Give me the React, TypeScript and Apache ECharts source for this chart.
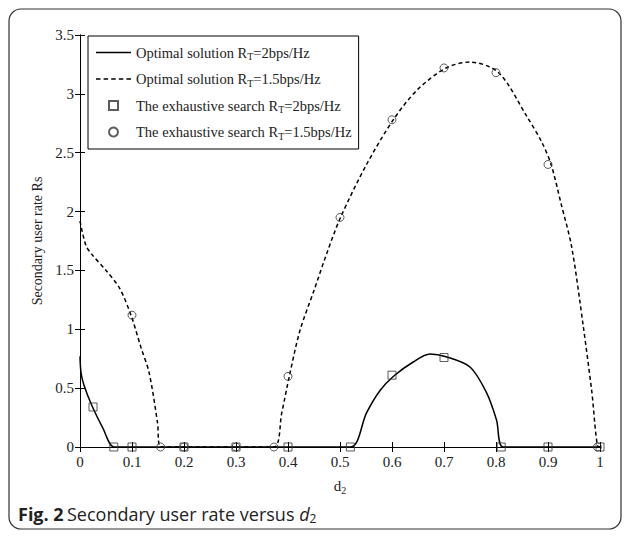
import React, { useEffect, useRef } from "react";
import * as echarts from "echarts";

// Optimal solution R_T = 2 bps/Hz (solid curve)
const rt2CurveX = [0, 0.002, 0.008, 0.023, 0.044, 0.065, 0.1, 0.2, 0.3, 0.4, 0.5205, 0.551, 0.577, 0.604, 0.64, 0.673, 0.704, 0.75, 0.782, 0.801, 0.814, 0.9, 1.0];
const rt2CurveY = [0.77, 0.63, 0.52, 0.35, 0.16, 0, 0, 0, 0, 0, 0, 0.29, 0.48, 0.605, 0.72, 0.79, 0.767, 0.68, 0.46, 0.23, 0, 0, 0];

// Optimal solution R_T = 1.5 bps/Hz (dashed curve)
const rt15CurveX = [0, 0.0115, 0.024, 0.05, 0.076, 0.098, 0.117, 0.133, 0.149, 0.155, 0.2, 0.3, 0.373, 0.388, 0.4025, 0.423, 0.45, 0.475, 0.501, 0.551, 0.604, 0.65, 0.704, 0.75, 0.805, 0.859, 0.888, 0.906, 0.925, 0.9455, 0.968, 0.984, 0.997, 1.0];
const rt15CurveY = [1.92, 1.71, 1.63, 1.5, 1.35, 1.12, 0.85, 0.63, 0.21, 0, 0, 0, 0, 0.29, 0.6, 0.99, 1.33, 1.65, 1.95, 2.4, 2.79, 3.04, 3.22, 3.27, 3.18, 2.81, 2.59, 2.4, 2.07, 1.7, 1.02, 0.48, 0, 0];

// Exhaustive search R_T = 2 bps/Hz (squares)
const rt2SearchX = [0.025, 0.065, 0.1, 0.2, 0.3, 0.4, 0.52, 0.6, 0.7, 0.81, 0.9, 1.0];
const rt2SearchY = [0.34, 0, 0, 0, 0, 0, 0, 0.61, 0.76, 0, 0, 0];

// Exhaustive search R_T = 1.5 bps/Hz (circles)
const rt15SearchX = [0.1, 0.155, 0.2, 0.3, 0.373, 0.4, 0.5, 0.6, 0.7, 0.8, 0.9, 0.995];
const rt15SearchY = [1.12, 0, 0, 0, 0, 0.6, 1.95, 2.78, 3.22, 3.18, 2.4, 0];

const seriesNames = [
  "Optimal solution RT=2bps/Hz",
  "Optimal solution RT=1.5bps/Hz",
  "The exhaustive search RT=2bps/Hz",
  "The exhaustive search RT=1.5bps/Hz",
];
const legendLabels = [
  "Optimal solution R{s|T}=2bps/Hz",
  "Optimal solution R{s|T}=1.5bps/Hz",
  "The exhaustive search R{s|T}=2bps/Hz",
  "The exhaustive search R{s|T}=1.5bps/Hz",
];
const legendIcons = [
  "path://M0,0H35V1.5H0Z",
  "path://M0,0H4.5V1.5H0Z M7.6,0H12.1V1.5H7.6Z M15.2,0H19.7V1.5H15.2Z M22.8,0H27.3V1.5H22.8Z M30.4,0H35V1.5H30.4Z",
  "path://M0,0H8V8H0Z",
  "circle",
];

const zip = (xs: number[], ys: number[]) => xs.map((x, i) => [x, ys[i]]);

const SERIF = "'Liberation Serif', 'Times New Roman', serif";
const SANS = "'Open Sans', sans-serif";

export default function App() {
  const ref = useRef<HTMLDivElement>(null);
  useEffect(() => {
    if (!ref.current) return;
    const chart = echarts.init(ref.current, null, { renderer: "svg" });
    const axisCommon = {
      type: "value" as const,
      axisLine: { show: true, lineStyle: { color: "#000", width: 1 } },
      axisTick: { show: true, inside: true, length: 5, lineStyle: { color: "#000" } },
      splitLine: { show: false },
    };
    chart.setOption({
      animation: false,
      backgroundColor: "#fff",
      grid: { left: 80, right: 30, top: 35, bottom: 89 },
      xAxis: [
        {
          ...axisCommon,
          position: "bottom",
          min: 0,
          max: 1,
          interval: 0.1,
          name: "d{s|2}",
          nameLocation: "middle",
          nameGap: 30,
          nameTextStyle: {
            fontFamily: SERIF,
            fontSize: 15,
            color: "#222",
            rich: { s: { fontSize: 10, fontFamily: SERIF, color: "#222", padding: [8, 0, 0, 0] } },
          },
          axisLabel: { fontFamily: SERIF, fontSize: 15, color: "#222", margin: 7 },
        },
        {
          ...axisCommon,
          position: "top",
          min: 0,
          max: 1,
          interval: 0.1,
          axisLabel: { show: false },
        },
      ],
      yAxis: [
        {
          ...axisCommon,
          position: "left",
          min: 0,
          max: 3.5,
          interval: 0.5,
          name: "Secondary user rate Rs",
          nameLocation: "middle",
          nameGap: 25,
          nameTextStyle: { fontFamily: SERIF, fontSize: 14, color: "#222" },
          axisLabel: { fontFamily: SERIF, fontSize: 15, color: "#222", margin: 6 },
        },
        {
          ...axisCommon,
          position: "right",
          min: 0,
          max: 3.5,
          interval: 0.5,
          axisLabel: { show: false },
        },
      ],
      legend: {
        orient: "vertical",
        left: 88,
        top: 36,
        data: seriesNames.map((n, i) => ({ name: n, icon: legendIcons[i] })),
        backgroundColor: "#fff",
        borderColor: "#000",
        borderWidth: 1,
        borderRadius: 0,
        padding: [9, 7, 8, 8],
        itemGap: 10,
        itemWidth: 35,
        itemHeight: 9,
        symbolKeepAspect: true,
        formatter: (name: string) => legendLabels[seriesNames.indexOf(name)],
        textStyle: {
          fontFamily: SERIF,
          fontSize: 14.5,
          color: "#222",
          rich: { s: { fontSize: 10, fontFamily: SERIF, color: "#222", padding: [8, 0, 0, 0] } },
        },
      },
      series: [
        {
          name: seriesNames[0],
          type: "line",
          data: zip(rt2CurveX, rt2CurveY),
          symbol: "none",
          smooth: 0.3,
          color: "#000",
          lineStyle: { color: "#000", width: 1.5, type: "solid" },
          z: 3,
        },
        {
          name: seriesNames[1],
          type: "line",
          data: zip(rt15CurveX, rt15CurveY),
          symbol: "none",
          smooth: 0.3,
          color: "#000",
          lineStyle: { color: "#000", width: 1.5, type: [4, 3] },
          z: 3,
        },
        {
          name: seriesNames[2],
          type: "scatter",
          data: zip(rt2SearchX, rt2SearchY),
          symbol: "rect",
          symbolSize: 8,
          clip: false,
          itemStyle: { color: "transparent", borderColor: "#333", borderWidth: 1 },
          z: 4,
        },
        {
          name: seriesNames[3],
          type: "scatter",
          data: zip(rt15SearchX, rt15SearchY),
          symbol: "circle",
          symbolSize: 8,
          clip: false,
          itemStyle: { color: "transparent", borderColor: "#333", borderWidth: 1 },
          z: 4,
        },
      ],
      graphic: [
        {
          type: "rect",
          shape: { x: 9, y: 9, width: 612, height: 520, r: 12 },
          style: { fill: "none", stroke: "#333", lineWidth: 1.2 },
          z: -1,
        },
        {
          type: "text",
          left: 18,
          top: 505,
          style: {
            text: "{b|Fig. 2} {n|Secondary user rate versus }{i|d}{sub|2}",
            rich: {
              b: { fontFamily: SANS, fontWeight: "bold", fontSize: 18, fill: "#222" },
              n: { fontFamily: SANS, fontSize: 18, fill: "#222" },
              i: { fontFamily: SANS, fontStyle: "italic", fontSize: 18, fill: "#222" },
              sub: { fontFamily: SANS, fontSize: 12, fill: "#222", padding: [9, 0, 0, 0] },
            },
          },
        },
      ],
    });
    return () => chart.dispose();
  }, []);
  return (
    <div
      ref={ref}
      style={{ position: "fixed", left: 0, top: 0, width: 630, height: 536, background: "#fff" }}
    />
  );
}
